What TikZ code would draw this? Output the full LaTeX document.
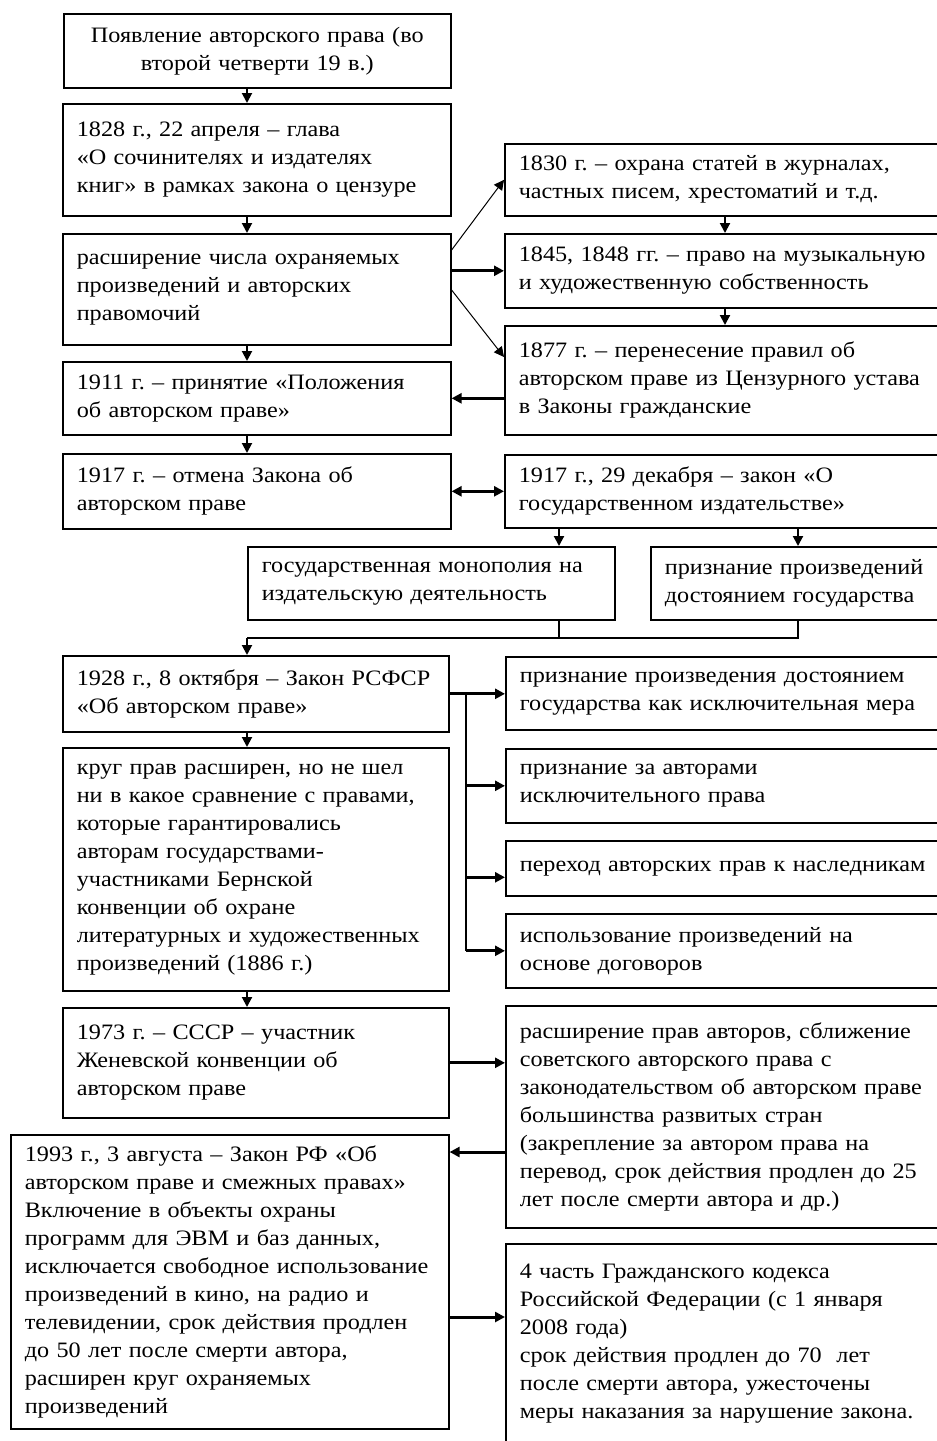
\documentclass[tikz,border=0pt]{standalone}
\usepackage{fontspec}
\setmainfont{Liberation Serif}[FakeStretch=1.1]
\usetikzlibrary{arrows.meta,calc}
\frenchspacing
\newcommand\boxfont{\fontsize{22}{28}\selectfont}
\tikzset{
  box/.style={draw, line width=1.6pt, anchor=north west, inner xsep=14pt,
    inner ysep=0pt, align=left, font=\boxfont},
  wh/.code 2 args={\pgfmathsetlengthmacro\boxtw{#1-28}%
    \edef\boxnext{\noexpand\pgfkeysalso{minimum width=#1pt,minimum height=#2pt,text width=\boxtw}}\boxnext},
  tip/.style={-{Triangle[length=10pt,width=10pt]}},
  varr/.style={tip, line width=2pt},
  harr/.style={tip, line width=3pt},
  thinarr/.style={tip, line width=1pt},
  link/.style={line width=1.5pt},
}
\begin{document}
\begin{tikzpicture}[x=1pt,y=-1pt]
\useasboundingbox (0,0) rectangle (937,1441);
\clip (0,0) rectangle (937,1441);
\fill[white] (0,0) rectangle (937,1441);

% left column
\node[box, wh={387}{74}, align=center] (b1) at (63,13)
  {Появление авторского права (во\\второй четверти 19 в.)};
\node[box, wh={388}{112}] (b2) at (62,103)
  {1828 г., 22 апреля – глава\\«О сочинителях и издателях\\книг» в рамках закона о цензуре};
\node[box, wh={388}{111}] (b3) at (62,233)
  {расширение числа охраняемых\\произведений и авторских\\правомочий};
\node[box, wh={388}{73}] (b4) at (62,361)
  {1911 г. – принятие «Положения\\об авторском праве»};
\node[box, wh={388}{75}] (b5) at (62,453)
  {1917 г. – отмена Закона об\\авторском праве};

% right column, upper part
\node[box, wh={441}{72}] (r1) at (504,143)
  {1830 г. – охрана статей в журналах,\\частных писем, хрестоматий и т.д.};
\node[box, wh={441}{74}] (r2) at (504,233)
  {1845, 1848 гг. – право на музыкальную\\и художественную собственность};
\node[box, wh={441}{109}] (r3) at (504,325)
  {1877 г. – перенесение правил об\\авторском праве из Цензурного устава\\в Законы гражданские};
\node[box, wh={441}{73}] (r4) at (504,454)
  {1917 г., 29 декабря – закон «О\\государственном издательстве»};

% consequences of the 1917 law
\node[box, wh={367}{73}] (m1) at (247,546)
  {государственная монополия на\\издательскую деятельность};
\node[box, wh={295}{73}] (m2) at (650,546)
  {признание произведений\\достоянием государства};

% 1928 law
\node[box, wh={386}{76}] (b6) at (62,655)
  {1928 г., 8 октября – Закон РСФСР\\«Об авторском праве»};
\node[box, wh={386}{243}] (b7) at (62,747)
  {круг прав расширен, но не шел\\ни в какое сравнение с правами,\\которые гарантировались\\авторам государствами-\\участниками Бернской\\конвенции об охране\\литературных и художественных\\произведений (1886 г.)};
\node[box, wh={440}{73}] (s1) at (505,656)
  {признание произведения достоянием\\государства как исключительная мера};
\node[box, wh={440}{74}] (s2) at (505,748)
  {признание за авторами\\исключительного права};
\node[box, wh={440}{55}] (s3) at (505,840)
  {переход авторских прав к наследникам};
\node[box, wh={440}{74}] (s4) at (505,913)
  {использование произведений на\\основе договоров};

% 1973 and later
\node[box, wh={386}{110}] (b8) at (62,1007)
  {1973 г. – СССР – участник\\Женевской конвенции об\\авторском праве};
\node[box, wh={440}{222}] (s5) at (505,1005)
  {расширение прав авторов, сближение\\советского авторского права с\\законодательством об авторском праве\\большинства развитых стран\\(закрепление за автором права на\\перевод, срок действия продлен до 25\\лет после смерти автора и др.)};
\node[box, wh={438}{294}] (b9) at (10,1134)
  {1993 г., 3 августа – Закон РФ «Об\\авторском праве и смежных правах»\\Включение в объекты охраны\\программ для ЭВМ и баз данных,\\исключается свободное использование\\произведений в кино, на радио и\\телевидении, срок действия продлен\\до 50 лет после смерти автора,\\расширен круг охраняемых\\произведений};
\node[box, wh={440}{200}] (s6) at (505,1243)
  {4 часть Гражданского кодекса\\Российской Федерации (с 1 января\\2008 года)\\срок действия продлен до 70\ \ лет\\после смерти автора, ужесточены\\меры наказания за нарушение закона.};

% guide coordinates for connectors
\coordinate (cl) at (247,0);
\coordinate (cr) at (725,0);
\coordinate (xa) at (559,0);
\coordinate (xb) at (798,0);
\coordinate (jn) at (247,638);
\coordinate (bus) at (466,0);
\coordinate (p) at ($(b9.north east)+(0,18)$);
\coordinate (q) at ($(s6.north west)+(0,74)$);

% main vertical flow
\draw[varr] (b1.south -| cl) -- (b2.north -| cl);
\draw[varr] (b2.south -| cl) -- (b3.north -| cl);
\draw[varr] (b3.south -| cl) -- (b4.north -| cl);
\draw[varr] (b4.south -| cl) -- (b5.north -| cl);
\draw[varr] (b6.south -| cl) -- (b7.north -| cl);
\draw[varr] (b7.south -| cl) -- (b8.north -| cl);

% branches of the 1828 chapter
\draw[thinarr] ($(b3.north east)+(0,17)$) -- (r1.west);
\draw[harr] (r2.west -| b3.east) -- (r2.west);
\draw[thinarr] ($(b3.north east)+(0,57)$) -- ($(r3.north west)+(0,32)$);
\draw[varr] (r1.south -| cr) -- (r2.north -| cr);
\draw[varr] (r2.south -| cr) -- (r3.north -| cr);
\draw[harr] (b4.east -| r3.west) -- (b4.east);

% 1917
\draw[harr, {Triangle[length=10pt,width=10pt]}-{Triangle[length=10pt,width=10pt]}] (b5.east) -- (r4.west);
\draw[varr] (r4.south -| xa) -- (m1.north -| xa);
\draw[varr] (r4.south -| xb) -- (m2.north -| xb);
\draw[link] (m1.south -| xa) |- (jn);
\draw[link] (m2.south -| xb) |- (jn);
\draw[varr] (jn) -- (b6.north -| jn);

% 1928 provisions
\draw[harr] (b6.east) -- (b6.east -| s1.west);
\draw[link] (b6.east -| bus) -- (s4.west -| bus);
\draw[harr] (s2.west -| bus) -- (s2.west);
\draw[harr] ($(s3.west -| bus)+(0,9)$) -- ($(s3.west)+(0,9)$);
\draw[harr] (s4.west -| bus) -- (s4.west);

% 1973 onwards
\draw[harr] (b8.east) -- (b8.east -| s5.west);
\draw[harr] (p -| s5.west) -- (p);
\draw[harr] (q -| b9.east) -- (q);
\end{tikzpicture}
\end{document}
